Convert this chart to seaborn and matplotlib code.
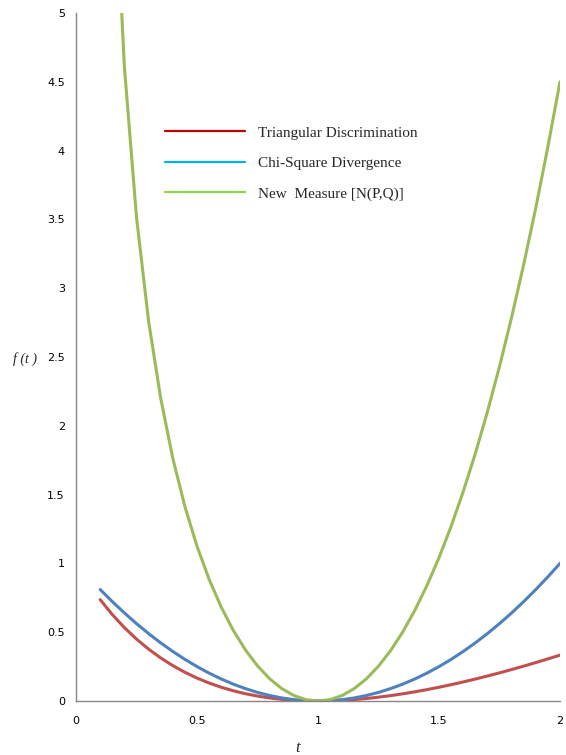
import numpy as np
import pandas as pd
import matplotlib
matplotlib.use("Agg")
import matplotlib.pyplot as plt
import seaborn as sns
from matplotlib.lines import Line2D

# values, t from 0.1 to 2.0 in steps of 0.05
t_vals = [0.1, 0.15, 0.2, 0.25, 0.3, 0.35, 0.4, 0.45, 0.5, 0.55,
          0.6, 0.65, 0.7, 0.75, 0.8, 0.85, 0.9, 0.95, 1.0, 1.05,
          1.1, 1.15, 1.2, 1.25, 1.3, 1.35, 1.4, 1.45, 1.5, 1.55,
          1.6, 1.65, 1.7, 1.75, 1.8, 1.85, 1.9, 1.95, 2.0]
triangular = [0.7364, 0.6283, 0.5333, 0.45, 0.3769, 0.313, 0.2571, 0.2086, 0.1667, 0.1306,
              0.1, 0.0742, 0.0529, 0.0357, 0.0222, 0.0122, 0.0053, 0.0013, 0.0, 0.0012,
              0.0048, 0.0105, 0.0182, 0.0278, 0.0391, 0.0521, 0.0667, 0.0827, 0.1, 0.1186,
              0.1385, 0.1594, 0.1815, 0.2045, 0.2286, 0.2535, 0.2793, 0.3059, 0.3333]
chi_square = [0.81, 0.7225, 0.64, 0.5625, 0.49, 0.4225, 0.36, 0.3025, 0.25, 0.2025,
              0.16, 0.1225, 0.09, 0.0625, 0.04, 0.0225, 0.01, 0.0025, 0.0, 0.0025,
              0.01, 0.0225, 0.04, 0.0625, 0.09, 0.1225, 0.16, 0.2025, 0.25, 0.3025,
              0.36, 0.4225, 0.49, 0.5625, 0.64, 0.7225, 0.81, 0.9025, 1.0]
new_measure = [9.801, 6.37, 4.608, 3.516, 2.76, 2.2, 1.764, 1.413, 1.125, 0.8846,
               0.6827, 0.5131, 0.3716, 0.2552, 0.162, 0.0906, 0.0401, 0.01, 0.0, 0.01,
               0.0401, 0.0904, 0.1613, 0.2531, 0.3662, 0.5011, 0.6583, 0.8383, 1.0417, 1.269,
               1.521, 1.798, 2.101, 2.431, 2.788, 3.172, 3.585, 4.028, 4.5]

names = ['Triangular Discrimination', 'Chi-Square Divergence', 'New  Measure [N(P,Q)]']
line_colors = ['#C0504D', '#4F81BD', '#9BBB59']
legend_colors = ['#C00000', '#00B0F0', '#92D050']

xticks = [0, 0.5, 1, 1.5, 2]
xtick_labels = ['0', '0.5', '1', '1.5', '2']
yticks = [0, 0.5, 1, 1.5, 2, 2.5, 3, 3.5, 4, 4.5, 5]
ytick_labels = ['0', '0.5', '1', '1.5', '2', '2.5', '3', '3.5', '4', '4.5', '5']

n = len(t_vals)
df = pd.DataFrame({
    't': t_vals * 3,
    'f': triangular + chi_square + new_measure,
    'measure': [names[0]] * n + [names[1]] * n + [names[2]] * n,
})

sns.set_style('white')
fig = plt.figure(figsize=(5.66, 7.55), dpi=100)
ax = fig.add_axes([76 / 566, 1 - 701 / 755, 484 / 566, 688 / 755])

sns.lineplot(data=df, x='t', y='f', hue='measure', palette=line_colors,
             linewidth=2.2, legend=False, ax=ax, sort=False)

ax.set_xlim(0, 2)
ax.set_ylim(0, 5)
ax.set_xticks(xticks)
ax.set_xticklabels(xtick_labels)
ax.set_yticks(yticks)
ax.set_yticklabels(ytick_labels)
ax.tick_params(axis='both', direction='out', length=3, width=1, color='#868686',
               labelsize=8, labelcolor='#000000')
ax.tick_params(axis='x', pad=8)
ax.tick_params(axis='y', pad=5)

for side in ['top', 'right']:
    ax.spines[side].set_visible(False)
for side in ['left', 'bottom']:
    ax.spines[side].set_color('#868686')
    ax.spines[side].set_linewidth(1)

ax.set_xlabel('t', fontfamily='Liberation Serif', fontstyle='italic', fontsize=12,
              va='center')
ax.xaxis.set_label_coords(0.457, -0.068)
ax.set_ylabel('f (t )', fontfamily='Liberation Serif', fontstyle='italic', fontsize=10,
              rotation=0, va='center', ha='center')
ax.yaxis.set_label_coords(-0.105, 0.497)

handles = [Line2D([], [], color=c, linewidth=1.6) for c in legend_colors]
ax.legend(handles, names, loc='upper left', bbox_to_anchor=(0.184, 0.836),
          frameon=False, borderpad=0, borderaxespad=0, handlelength=5.25,
          handletextpad=0.85, labelspacing=1.1,
          prop={'family': 'Liberation Serif', 'size': 11})

fig.savefig('out.png', dpi=100)
